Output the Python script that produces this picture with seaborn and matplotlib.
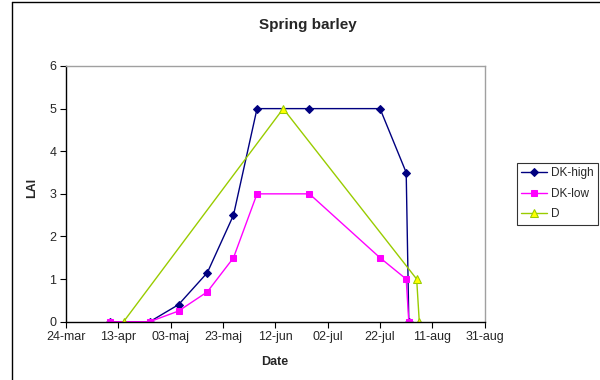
import matplotlib
matplotlib.use("Agg")
import matplotlib.pyplot as plt
from matplotlib.lines import Line2D
import pandas as pd
import seaborn as sns

# LAI measurements for spring barley
dk_dates = ["2003-04-10", "2003-04-25", "2003-05-06", "2003-05-17", "2003-05-27",
            "2003-06-05", "2003-06-25", "2003-07-22", "2003-08-01", "2003-08-02"]
dk_high = [0, 0, 0.4, 1.15, 2.5, 5, 5, 5, 3.5, 0]
dk_low = [0, 0, 0.25, 0.7, 1.5, 3, 3, 1.5, 1.0, 0]
d_dates = ["2003-04-15", "2003-06-15", "2003-08-05", "2003-08-06"]
d_vals = [0, 5, 1, 0]

tick_dates = ["2003-03-24", "2003-04-13", "2003-05-03", "2003-05-23", "2003-06-12",
              "2003-07-02", "2003-07-22", "2003-08-11", "2003-08-31"]
tick_labels = ["24-mar", "13-apr", "03-maj", "23-maj", "12-jun",
               "02-jul", "22-jul", "11-aug", "31-aug"]
y_ticks = [0, 1, 2, 3, 4, 5, 6]

sns.set_theme(style="white")
plt.rcParams["font.family"] = ["Liberation Sans", "DejaVu Sans"]

df_high = pd.DataFrame({"Date": pd.to_datetime(dk_dates), "LAI": dk_high})
df_low = pd.DataFrame({"Date": pd.to_datetime(dk_dates), "LAI": dk_low})
df_d = pd.DataFrame({"Date": pd.to_datetime(d_dates), "LAI": d_vals})

fig = plt.figure(figsize=(6, 3.8), dpi=100)
ax = fig.add_axes([66 / 600, 1 - 321.7 / 380, (484.7 - 66) / 600, (321.7 - 66) / 380])

sns.lineplot(data=df_high, x="Date", y="LAI", ax=ax, sort=False, estimator=None,
             color="#000080", lw=1.0, marker="D", markersize=4.3,
             markeredgecolor="#000080", label="DK-high")
sns.lineplot(data=df_low, x="Date", y="LAI", ax=ax, sort=False, estimator=None,
             color="#FF00FF", lw=1.0, marker="s", markersize=4.4,
             markeredgecolor="#FF00FF", label="DK-low")
sns.lineplot(data=df_d, x="Date", y="LAI", ax=ax, sort=False, estimator=None,
             color="#99CC00", lw=1.0, marker="^", markersize=5.5,
             markerfacecolor="#FFFF00", markeredgecolor="#99CC00", label="D")

ticks = pd.to_datetime(tick_dates)
ax.set_xlim(ticks[0], ticks[-1])
ax.set_xticks(ticks)
ax.set_xticklabels(tick_labels, fontsize=9)
ax.set_ylim(0, 6)
ax.set_yticks(y_ticks)
ax.set_yticklabels([str(v) for v in y_ticks], fontsize=9)
ax.set_xlabel("")
ax.set_ylabel("")
ax.tick_params(axis="both", direction="out", length=4, width=0.8, color="black",
               pad=3, bottom=True, left=True)

for side in ("left", "bottom"):
    ax.spines[side].set_color("black")
    ax.spines[side].set_linewidth(1.0)
for side in ("top", "right"):
    ax.spines[side].set_color("#A0A0A0")
    ax.spines[side].set_linewidth(1.0)

leg = ax.legend(loc="upper left", bbox_to_anchor=(516.7 / 600, 1 - 162.7 / 380),
                bbox_transform=fig.transFigure, fontsize=8.5, frameon=True,
                fancybox=False, borderpad=0.4, handlelength=2.2, handletextpad=0.3,
                labelspacing=0.7, borderaxespad=0)
leg.get_frame().set_edgecolor("black")
leg.get_frame().set_linewidth(0.8)

fig.text(308 / 600, 1 - 25 / 380, "Spring barley", ha="center", va="center",
         fontsize=11, fontweight="bold")
fig.text(275 / 600, 1 - 362 / 380, "Date", ha="center", va="center",
         fontsize=9, fontweight="bold")
fig.text(32 / 600, 1 - 188 / 380, "LAI", ha="center", va="center",
         fontsize=9, fontweight="bold", rotation=90)

# outer chart frame
fig.add_artist(Line2D([12 / 600, 12 / 600], [0, 1 - 2 / 380], color="black", lw=1.0,
                      transform=fig.transFigure))
fig.add_artist(Line2D([12 / 600, 1], [1 - 2 / 380, 1 - 2 / 380], color="black", lw=1.0,
                      transform=fig.transFigure))

fig.savefig("out.png", dpi=100)
